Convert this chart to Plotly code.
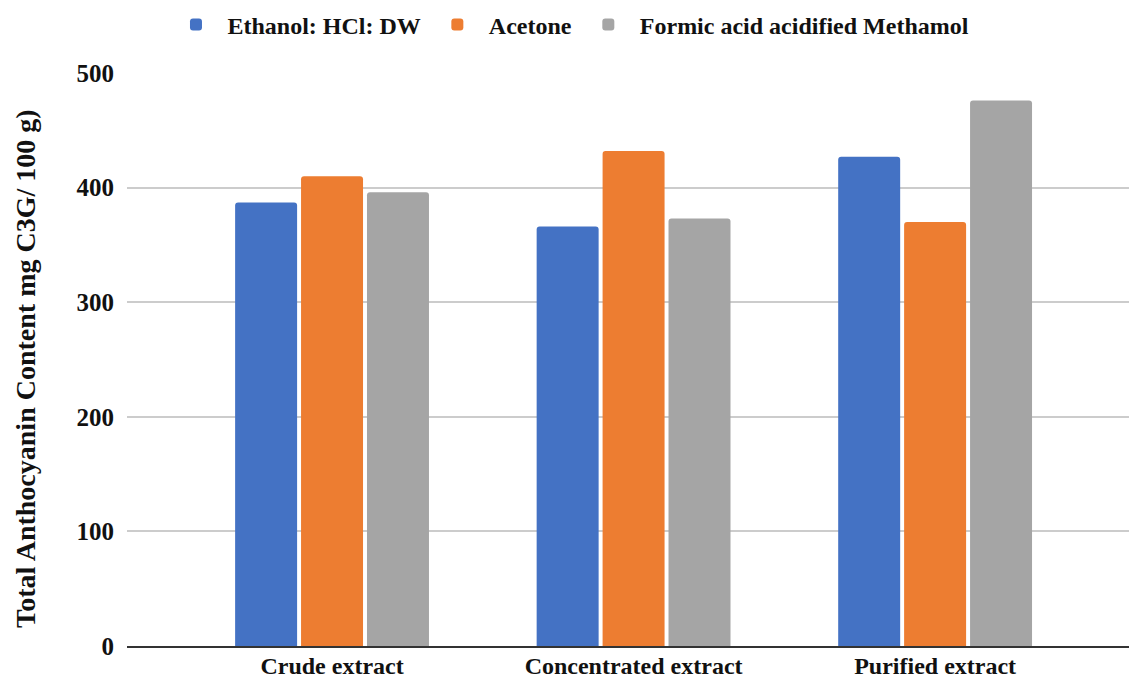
import plotly.graph_objects as go

# Extraction stages on the x axis
stages = ["Crude extract", "Concentrated extract", "Purified extract"]

# Total anthocyanin content (mg C3G / 100 g) for each solvent system
ethanol_hcl_dw = [387, 366, 427]
acetone = [410, 432, 370]
formic_methanol = [396, 373, 476]

series_names = ["Ethanol: HCl: DW", "Acetone", "Formic acid acidified Methamol"]
series_colors = ["#4472C4", "#ED7D31", "#A5A5A5"]
y_ticks = [0, 100, 200, 300, 400, 500]
y_title = "Total Anthocyanin Content mg C3G/ 100 g)"

FONT = "Liberation Serif, Times New Roman, serif"

fig = go.Figure()
for name, vals, col in zip(series_names,
                           [ethanol_hcl_dw, acetone, formic_methanol],
                           series_colors):
    fig.add_trace(go.Bar(
        x=stages, y=vals, name=name,
        marker=dict(color=col, line=dict(width=0)),
        hoverinfo="x+y+name",
    ))

fig.update_layout(
    width=1129, height=680,
    margin=dict(l=127, r=0, t=73, b=34, autoexpand=False),
    paper_bgcolor="white", plot_bgcolor="white",
    barmode="group", bargap=0.344, bargroupgap=0.06,
    barcornerradius=3,
    font=dict(family=FONT, size=22, color="#111"),
    legend=dict(
        orientation="h", x=0.4416, xanchor="center",
        y=1.084, yanchor="middle",
        font=dict(family=FONT, size=24, color="#111", weight="bold"),
        itemwidth=53, traceorder="normal",
    ),
    xaxis=dict(
        range=[-0.68, 2.643], showgrid=False,
        showline=True, linecolor="#333", linewidth=2,
        ticks="", tickangle=0, ticklabelstandoff=-3,
        tickfont=dict(family=FONT, size=24, color="#111", weight="bold"),
    ),
    yaxis=dict(
        range=[0, 500], tickvals=y_ticks,
        showgrid=True, gridcolor="#CCCCCC", gridwidth=1.5,
        zeroline=False, showline=False, ticks="",
        ticklabelstandoff=12,
        tickfont=dict(family=FONT, size=25, color="#111", weight="bold"),
    ),
    annotations=[dict(
        text=y_title, textangle=-90, showarrow=False,
        xref="paper", yref="paper", x=-0.1008, y=0.4852,
        xanchor="center", yanchor="middle",
        font=dict(family=FONT, size=28, color="#111", weight="bold"),
    )],
)

fig.write_html("out.html")
